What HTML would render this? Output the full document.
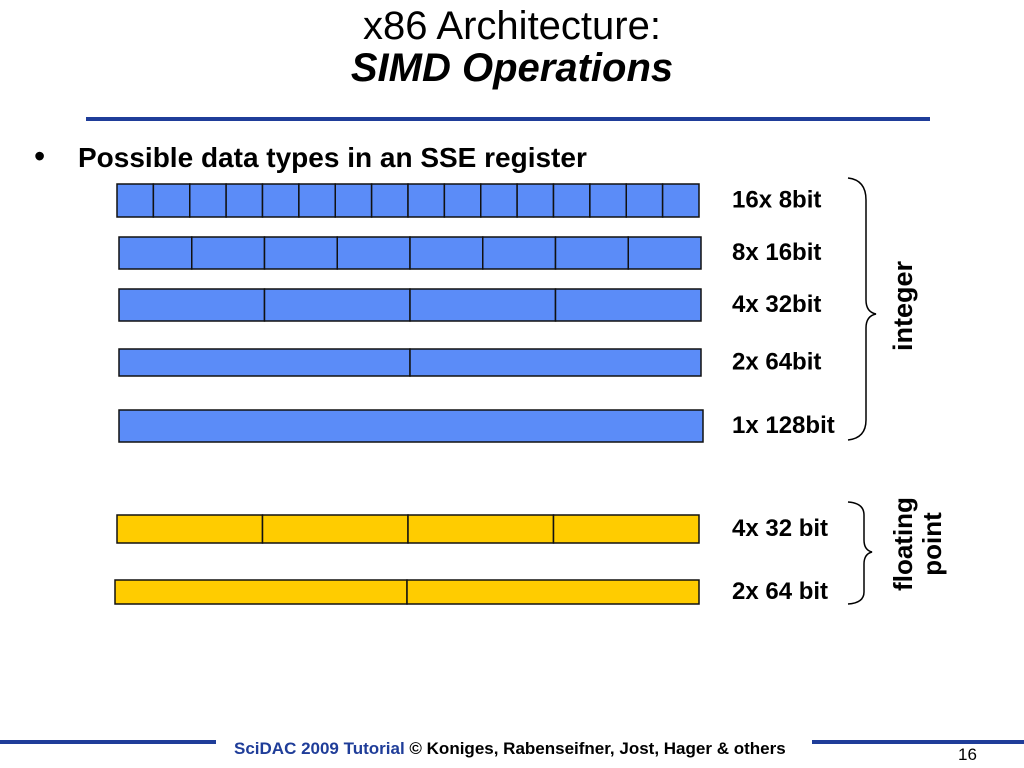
<!DOCTYPE html>
<html><head><meta charset="utf-8"><style>
body{margin:0;width:1024px;height:768px;background:#fff;position:relative;overflow:hidden;font-family:"Liberation Sans",sans-serif}
.t{position:absolute;white-space:nowrap}
</style></head><body>
<div class="t" style="left:0;width:1024px;text-align:center;top:5px;font-size:40px;line-height:42px">x86 Architecture:<br><b><i>SIMD Operations</i></b></div>
<div style="position:absolute;left:86px;top:117px;width:844px;height:4px;background:#1f3d99"></div>
<div class="t" style="left:34px;top:138px;font-size:32px">•</div>
<div class="t" style="left:78px;top:142px;font-size:28px;font-weight:bold">Possible data types in an SSE register</div>
<svg id="c" width="1024" height="768" style="position:absolute;left:0;top:0">
<path d="M848,178 Q866,180 866,200 L866,300 Q866,312 876,314 Q866,316 866,328 L866,420 Q866,438 848,440" fill="none" stroke="#000" stroke-width="1.5"/>
<path d="M848,502 Q864,503 864,515 L864,540 Q864,550 872,552 Q864,554 864,564 L864,592 Q864,603 848,604" fill="none" stroke="#000" stroke-width="1.5"/>
<text transform="translate(912,306) rotate(-90)" text-anchor="middle" font-size="27" font-weight="bold">integer</text>
<text transform="translate(912,544) rotate(-90)" text-anchor="middle" font-size="26" font-weight="bold">floating</text>
<text transform="translate(941,544) rotate(-90)" text-anchor="middle" font-size="26" font-weight="bold">point</text>
</svg>
<div class="t" style="left:0;top:740px;width:216px;height:4px;background:#1f3d99"></div>
<div class="t" style="left:812px;top:740px;width:212px;height:4px;background:#1f3d99"></div>
<div class="t" style="left:234px;top:739px;font-size:17px;font-weight:bold"><span style="color:#1f3d99">SciDAC 2009 Tutorial</span> © Koniges, Rabenseifner, Jost, Hager &amp; others</div>
<div class="t" style="left:958px;top:745px;font-size:17px">16</div>
<script>
const labels=["16x 8bit","8x 16bit","4x 32bit","2x 64bit","1x 128bit","4x 32 bit","2x 64 bit"];
const lanes=[16,8,4,2,1,4,2];
const kinds=["int","int","int","int","int","fp","fp"];
const geo=[[117,184,582,33],[119,237,582,32],[119,289,582,32],[119,349,582,27],[119,410,584,32],[117,515,582,28],[115,580,584,24]];
const svg=document.getElementById('c');const NS="http://www.w3.org/2000/svg";
labels.forEach((lab,i)=>{const [x,y,w,h]=geo[i];const n=lanes[i];
 for(let k=0;k<n;k++){const r=document.createElementNS(NS,'rect');
  
  
  r.setAttribute('x',x+w*k/n);r.setAttribute('y',y);r.setAttribute('width',w/n);r.setAttribute('height',h);
  r.setAttribute('fill',kinds[i]=="int"?"#5b8cf8":"#ffcc00");r.setAttribute('stroke','#111');r.setAttribute('stroke-width','1.5');svg.appendChild(r);}
 const t=document.createElementNS(NS,'text');
 
 
 t.setAttribute('x',732);t.setAttribute('y',y+h/2+7);t.setAttribute('font-size','24');t.setAttribute('font-weight','bold');t.textContent=lab;svg.appendChild(t);});
</script>
</body></html>
